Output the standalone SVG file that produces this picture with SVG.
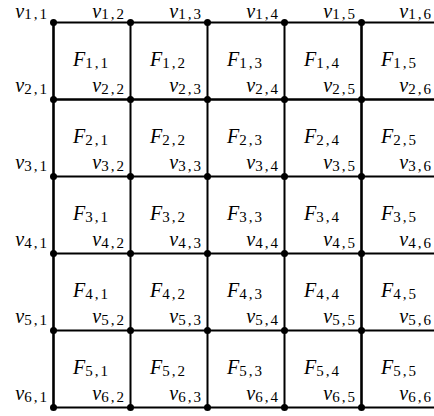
<svg xmlns="http://www.w3.org/2000/svg" width="434" height="416" viewBox="0 0 434 416">
<style>
text{font-family:"Liberation Serif","DejaVu Serif",serif;font-size:20px;fill:#000}
.m{font-style:italic}
.s{font-size:15px;letter-spacing:2px}
.v{text-anchor:end}
.e{stroke:#000;stroke-width:2;fill:none}
.t{stroke-width:2.6}
.d{fill:#000}
</style>
<rect width="434" height="416" fill="#fff"/>
<g id="connectors">
<path class="e" d="M53.5 22.5H434M53.5 176.5H434M53.5 253.5H434M53.5 330.5H434M53.5 407.5H434M130.5 22.5V407.5M207.5 22.5V407.5M284.5 22.5V407.5"/>
<path class="e t" d="M53.5 99.5H434M53.5 22.5V407.5M361.5 22.5V407.5"/>
</g>
<g id="vertices">
<g id="v11"><circle class="d" cx="53.5" cy="22.5" r="3.5"/><text class="v" x="49" y="18"><tspan class="m">v</tspan><tspan class="s" dy="1">1,1</tspan></text></g>
<g id="v12"><circle class="d" cx="130.5" cy="22.5" r="3.5"/><text class="v" x="126" y="18"><tspan class="m">v</tspan><tspan class="s" dy="1">1,2</tspan></text></g>
<g id="v13"><circle class="d" cx="207.5" cy="22.5" r="3.5"/><text class="v" x="203" y="18"><tspan class="m">v</tspan><tspan class="s" dy="1">1,3</tspan></text></g>
<g id="v14"><circle class="d" cx="284.5" cy="22.5" r="3.5"/><text class="v" x="280" y="18"><tspan class="m">v</tspan><tspan class="s" dy="1">1,4</tspan></text></g>
<g id="v15"><circle class="d" cx="361.5" cy="22.5" r="3.5"/><text class="v" x="357" y="18"><tspan class="m">v</tspan><tspan class="s" dy="1">1,5</tspan></text></g>
<g id="v16"><text class="v" x="433" y="18"><tspan class="m">v</tspan><tspan class="s" dy="1">1,6</tspan></text></g>

<g id="v21"><circle class="d" cx="53.5" cy="99.5" r="3.5"/><text class="v" x="49" y="91.5"><tspan class="m">v</tspan><tspan class="s" dy="2">2,1</tspan></text></g>
<g id="v22"><circle class="d" cx="130.5" cy="99.5" r="3.5"/><text class="v" x="126" y="91.5"><tspan class="m">v</tspan><tspan class="s" dy="2">2,2</tspan></text></g>
<g id="v23"><circle class="d" cx="207.5" cy="99.5" r="3.5"/><text class="v" x="203" y="91.5"><tspan class="m">v</tspan><tspan class="s" dy="2">2,3</tspan></text></g>
<g id="v24"><circle class="d" cx="284.5" cy="99.5" r="3.5"/><text class="v" x="280" y="91.5"><tspan class="m">v</tspan><tspan class="s" dy="2">2,4</tspan></text></g>
<g id="v25"><circle class="d" cx="361.5" cy="99.5" r="3.5"/><text class="v" x="357" y="91.5"><tspan class="m">v</tspan><tspan class="s" dy="2">2,5</tspan></text></g>
<g id="v26"><text class="v" x="433" y="91.5"><tspan class="m">v</tspan><tspan class="s" dy="2">2,6</tspan></text></g>

<g id="v31"><circle class="d" cx="53.5" cy="176.5" r="3.5"/><text class="v" x="49" y="168.5"><tspan class="m">v</tspan><tspan class="s" dy="2">3,1</tspan></text></g>
<g id="v32"><circle class="d" cx="130.5" cy="176.5" r="3.5"/><text class="v" x="126" y="168.5"><tspan class="m">v</tspan><tspan class="s" dy="2">3,2</tspan></text></g>
<g id="v33"><circle class="d" cx="207.5" cy="176.5" r="3.5"/><text class="v" x="203" y="168.5"><tspan class="m">v</tspan><tspan class="s" dy="2">3,3</tspan></text></g>
<g id="v34"><circle class="d" cx="284.5" cy="176.5" r="3.5"/><text class="v" x="280" y="168.5"><tspan class="m">v</tspan><tspan class="s" dy="2">3,4</tspan></text></g>
<g id="v35"><circle class="d" cx="361.5" cy="176.5" r="3.5"/><text class="v" x="357" y="168.5"><tspan class="m">v</tspan><tspan class="s" dy="2">3,5</tspan></text></g>
<g id="v36"><text class="v" x="433" y="168.5"><tspan class="m">v</tspan><tspan class="s" dy="2">3,6</tspan></text></g>

<g id="v41"><circle class="d" cx="53.5" cy="253.5" r="3.5"/><text class="v" x="49" y="245.5"><tspan class="m">v</tspan><tspan class="s" dy="2">4,1</tspan></text></g>
<g id="v42"><circle class="d" cx="130.5" cy="253.5" r="3.5"/><text class="v" x="126" y="245.5"><tspan class="m">v</tspan><tspan class="s" dy="2">4,2</tspan></text></g>
<g id="v43"><circle class="d" cx="207.5" cy="253.5" r="3.5"/><text class="v" x="203" y="245.5"><tspan class="m">v</tspan><tspan class="s" dy="2">4,3</tspan></text></g>
<g id="v44"><circle class="d" cx="284.5" cy="253.5" r="3.5"/><text class="v" x="280" y="245.5"><tspan class="m">v</tspan><tspan class="s" dy="2">4,4</tspan></text></g>
<g id="v45"><circle class="d" cx="361.5" cy="253.5" r="3.5"/><text class="v" x="357" y="245.5"><tspan class="m">v</tspan><tspan class="s" dy="2">4,5</tspan></text></g>
<g id="v46"><text class="v" x="433" y="245.5"><tspan class="m">v</tspan><tspan class="s" dy="2">4,6</tspan></text></g>

<g id="v51"><circle class="d" cx="53.5" cy="330.5" r="3.5"/><text class="v" x="49" y="322.5"><tspan class="m">v</tspan><tspan class="s" dy="2">5,1</tspan></text></g>
<g id="v52"><circle class="d" cx="130.5" cy="330.5" r="3.5"/><text class="v" x="126" y="322.5"><tspan class="m">v</tspan><tspan class="s" dy="2">5,2</tspan></text></g>
<g id="v53"><circle class="d" cx="207.5" cy="330.5" r="3.5"/><text class="v" x="203" y="322.5"><tspan class="m">v</tspan><tspan class="s" dy="2">5,3</tspan></text></g>
<g id="v54"><circle class="d" cx="284.5" cy="330.5" r="3.5"/><text class="v" x="280" y="322.5"><tspan class="m">v</tspan><tspan class="s" dy="2">5,4</tspan></text></g>
<g id="v55"><circle class="d" cx="361.5" cy="330.5" r="3.5"/><text class="v" x="357" y="322.5"><tspan class="m">v</tspan><tspan class="s" dy="2">5,5</tspan></text></g>
<g id="v56"><text class="v" x="433" y="322.5"><tspan class="m">v</tspan><tspan class="s" dy="2">5,6</tspan></text></g>

<g id="v61"><circle class="d" cx="53.5" cy="407.5" r="3.5"/><text class="v" x="49" y="399.5"><tspan class="m">v</tspan><tspan class="s" dy="2">6,1</tspan></text></g>
<g id="v62"><circle class="d" cx="130.5" cy="407.5" r="3.5"/><text class="v" x="126" y="399.5"><tspan class="m">v</tspan><tspan class="s" dy="2">6,2</tspan></text></g>
<g id="v63"><circle class="d" cx="207.5" cy="407.5" r="3.5"/><text class="v" x="203" y="399.5"><tspan class="m">v</tspan><tspan class="s" dy="2">6,3</tspan></text></g>
<g id="v64"><circle class="d" cx="284.5" cy="407.5" r="3.5"/><text class="v" x="280" y="399.5"><tspan class="m">v</tspan><tspan class="s" dy="2">6,4</tspan></text></g>
<g id="v65"><circle class="d" cx="361.5" cy="407.5" r="3.5"/><text class="v" x="357" y="399.5"><tspan class="m">v</tspan><tspan class="s" dy="2">6,5</tspan></text></g>
<g id="v66"><text class="v" x="433" y="399.5"><tspan class="m">v</tspan><tspan class="s" dy="2">6,6</tspan></text></g>
</g>
<g id="faces">
<g id="F11"><text x="73" y="66"><tspan class="m">F</tspan><tspan class="s" dy="2">1,1</tspan></text></g>
<g id="F12"><text x="150" y="66"><tspan class="m">F</tspan><tspan class="s" dy="2">1,2</tspan></text></g>
<g id="F13"><text x="227" y="66"><tspan class="m">F</tspan><tspan class="s" dy="2">1,3</tspan></text></g>
<g id="F14"><text x="304" y="66"><tspan class="m">F</tspan><tspan class="s" dy="2">1,4</tspan></text></g>
<g id="F15"><text x="381" y="66"><tspan class="m">F</tspan><tspan class="s" dy="2">1,5</tspan></text></g>
<g id="F21"><text x="73" y="143"><tspan class="m">F</tspan><tspan class="s" dy="2">2,1</tspan></text></g>
<g id="F22"><text x="150" y="143"><tspan class="m">F</tspan><tspan class="s" dy="2">2,2</tspan></text></g>
<g id="F23"><text x="227" y="143"><tspan class="m">F</tspan><tspan class="s" dy="2">2,3</tspan></text></g>
<g id="F24"><text x="304" y="143"><tspan class="m">F</tspan><tspan class="s" dy="2">2,4</tspan></text></g>
<g id="F25"><text x="381" y="143"><tspan class="m">F</tspan><tspan class="s" dy="2">2,5</tspan></text></g>
<g id="F31"><text x="73" y="220"><tspan class="m">F</tspan><tspan class="s" dy="2">3,1</tspan></text></g>
<g id="F32"><text x="150" y="220"><tspan class="m">F</tspan><tspan class="s" dy="2">3,2</tspan></text></g>
<g id="F33"><text x="227" y="220"><tspan class="m">F</tspan><tspan class="s" dy="2">3,3</tspan></text></g>
<g id="F34"><text x="304" y="220"><tspan class="m">F</tspan><tspan class="s" dy="2">3,4</tspan></text></g>
<g id="F35"><text x="381" y="220"><tspan class="m">F</tspan><tspan class="s" dy="2">3,5</tspan></text></g>
<g id="F41"><text x="73" y="297"><tspan class="m">F</tspan><tspan class="s" dy="2">4,1</tspan></text></g>
<g id="F42"><text x="150" y="297"><tspan class="m">F</tspan><tspan class="s" dy="2">4,2</tspan></text></g>
<g id="F43"><text x="227" y="297"><tspan class="m">F</tspan><tspan class="s" dy="2">4,3</tspan></text></g>
<g id="F44"><text x="304" y="297"><tspan class="m">F</tspan><tspan class="s" dy="2">4,4</tspan></text></g>
<g id="F45"><text x="381" y="297"><tspan class="m">F</tspan><tspan class="s" dy="2">4,5</tspan></text></g>
<g id="F51"><text x="73" y="374"><tspan class="m">F</tspan><tspan class="s" dy="2">5,1</tspan></text></g>
<g id="F52"><text x="150" y="374"><tspan class="m">F</tspan><tspan class="s" dy="2">5,2</tspan></text></g>
<g id="F53"><text x="227" y="374"><tspan class="m">F</tspan><tspan class="s" dy="2">5,3</tspan></text></g>
<g id="F54"><text x="304" y="374"><tspan class="m">F</tspan><tspan class="s" dy="2">5,4</tspan></text></g>
<g id="F55"><text x="381" y="374"><tspan class="m">F</tspan><tspan class="s" dy="2">5,5</tspan></text></g>
</g>
</svg>
